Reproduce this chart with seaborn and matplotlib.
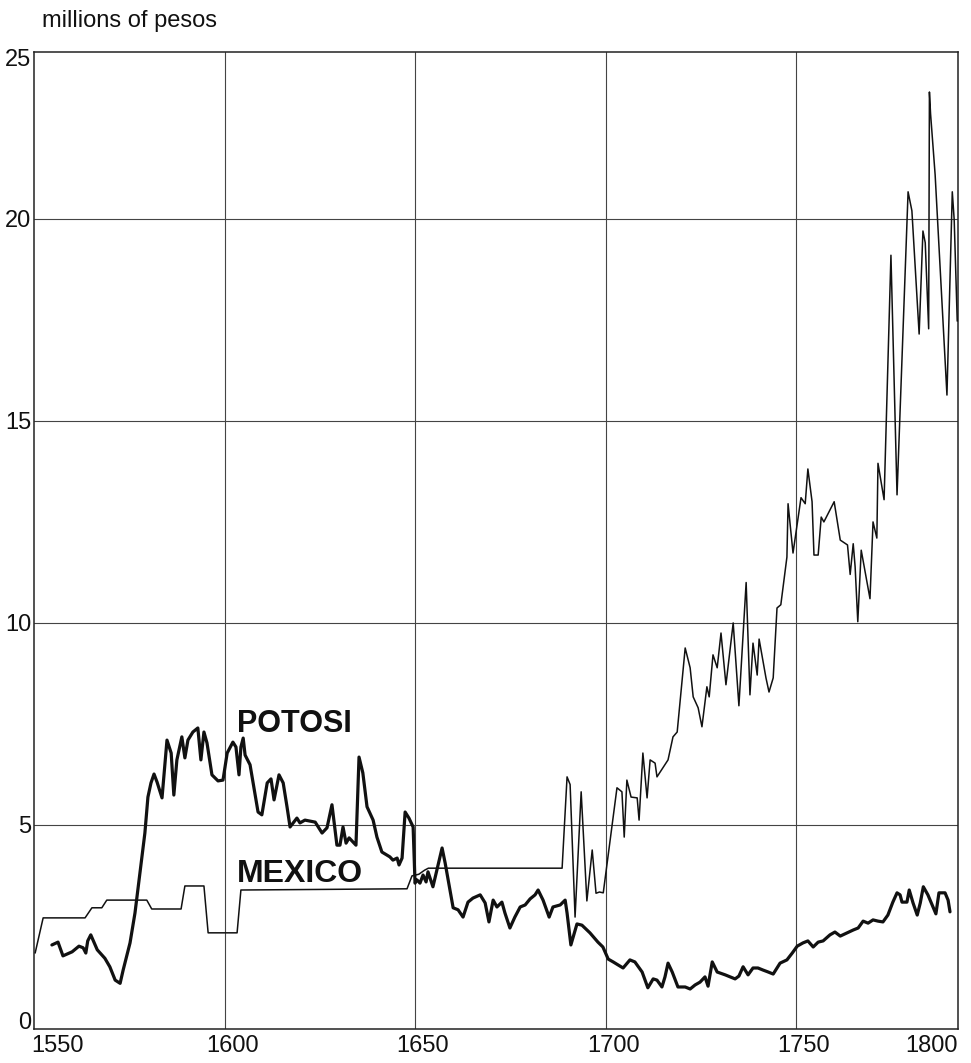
import matplotlib
matplotlib.use('Agg')
import pandas as pd
import seaborn as sns
from matplotlib import pyplot as plt
from matplotlib.transforms import ScaledTranslation

# values (years, millions of pesos)
potosi_year = [
    1554.7, 1556.3, 1557.6, 1560.0, 1561.8, 1562.9, 1563.6, 1564.1, 1564.9, 1566.6,
    1568.6, 1569.9, 1571.3, 1572.6, 1573.4, 1575.2, 1576.5, 1577.8, 1579.1, 1579.9,
    1580.7, 1581.5, 1582.3, 1583.6, 1584.9, 1586.0, 1586.7, 1587.5, 1588.8, 1589.6,
    1590.4, 1591.7, 1593.0, 1593.8, 1594.6, 1595.4, 1596.7, 1598.3, 1599.6, 1600.7,
    1602.2, 1603.0, 1603.8, 1604.3, 1604.9, 1605.4, 1606.7, 1607.5, 1608.8, 1609.8,
    1611.2, 1612.2, 1613.0, 1614.3, 1615.4, 1616.4, 1617.2, 1619.0, 1619.8, 1621.1,
    1623.8, 1625.6, 1626.9, 1628.2, 1629.0, 1629.5, 1630.3, 1631.1, 1631.9, 1632.7,
    1633.7, 1634.5, 1635.3, 1636.3, 1637.4, 1639.0, 1640.0, 1641.3, 1643.4, 1644.2,
    1645.3, 1645.8, 1646.6, 1647.4, 1648.4, 1649.5, 1650.0, 1650.5, 1651.3, 1652.1,
    1652.9, 1653.4, 1654.7, 1657.1, 1657.9, 1658.7, 1660.0, 1661.3, 1662.6, 1663.9,
    1665.2, 1667.1, 1668.4, 1669.4, 1670.5, 1671.5, 1672.8, 1673.6, 1674.9, 1676.2,
    1677.6, 1678.9, 1680.2, 1681.5, 1682.3, 1683.6, 1685.2, 1686.2, 1688.1, 1689.4,
    1689.9, 1690.9, 1692.5, 1693.8, 1695.9, 1698.0, 1699.3, 1700.7, 1702.0, 1704.6,
    1706.4, 1707.7, 1709.6, 1711.1, 1712.5, 1713.5, 1714.8, 1715.6, 1716.4, 1717.5,
    1719.0, 1720.9, 1722.2, 1723.5, 1724.8, 1726.1, 1726.9, 1728.0, 1729.3, 1731.4,
    1734.0, 1735.0, 1736.1, 1737.4, 1738.7, 1740.0, 1741.3, 1742.7, 1744.0, 1745.8,
    1747.6, 1749.0, 1750.3, 1751.8, 1753.1, 1754.5, 1755.8, 1757.1, 1758.9, 1760.2,
    1761.6, 1763.4, 1765.0, 1766.3, 1767.6, 1768.9, 1770.2, 1771.5, 1772.8, 1774.1,
    1775.4, 1776.5, 1777.3, 1777.8, 1779.1, 1779.7, 1780.7, 1781.8, 1782.6, 1783.4,
    1784.6, 1786.7, 1787.5, 1789.1, 1789.9, 1790.4,
]
potosi_value = [
    2.03, 2.10, 1.76, 1.86, 2.00, 1.96, 1.83, 2.13, 2.28, 1.91,
    1.70, 1.49, 1.16, 1.08, 1.41, 2.08, 2.82, 3.81, 4.80, 5.69,
    6.04, 6.26, 6.06, 5.67, 7.10, 6.78, 5.74, 6.61, 7.18, 6.66,
    7.10, 7.30, 7.40, 6.61, 7.30, 7.03, 6.24, 6.09, 6.11, 6.78,
    7.05, 6.93, 6.24, 6.93, 7.15, 6.73, 6.49, 6.04, 5.32, 5.25,
    6.04, 6.14, 5.62, 6.24, 6.04, 5.45, 4.95, 5.17, 5.05, 5.12,
    5.07, 4.80, 4.93, 5.50, 4.88, 4.50, 4.50, 4.95, 4.55, 4.68,
    4.58, 4.50, 6.68, 6.29, 5.45, 5.12, 4.70, 4.33, 4.21, 4.13,
    4.18, 4.01, 4.18, 5.32, 5.17, 4.95, 3.56, 3.64, 3.56, 3.76,
    3.59, 3.84, 3.47, 4.43, 4.06, 3.64, 2.95, 2.90, 2.72, 3.09,
    3.19, 3.27, 3.07, 2.60, 3.14, 2.97, 3.09, 2.82, 2.45, 2.72,
    2.97, 3.02, 3.17, 3.27, 3.39, 3.14, 2.72, 2.97, 3.02, 3.14,
    2.82, 2.03, 2.55, 2.52, 2.33, 2.10, 1.98, 1.68, 1.61, 1.46,
    1.66, 1.61, 1.36, 0.97, 1.19, 1.16, 0.99, 1.24, 1.58, 1.36,
    0.99, 0.99, 0.94, 1.04, 1.11, 1.24, 1.01, 1.61, 1.36, 1.29,
    1.19, 1.26, 1.49, 1.29, 1.46, 1.46, 1.41, 1.36, 1.31, 1.58,
    1.66, 1.83, 2.00, 2.08, 2.13, 1.98, 2.10, 2.13, 2.28, 2.35,
    2.25, 2.33, 2.40, 2.45, 2.62, 2.57, 2.65, 2.62, 2.60, 2.77,
    3.09, 3.32, 3.27, 3.09, 3.09, 3.39, 3.07, 2.77, 3.07, 3.47,
    3.27, 2.80, 3.32, 3.32, 3.14, 2.85,
]

mexico_year = [
    1550.3, 1552.4, 1563.4, 1565.2, 1567.8, 1569.1, 1579.6, 1580.9, 1588.6, 1589.6,
    1594.6, 1595.7, 1603.3, 1604.3, 1647.9, 1649.2, 1651.0, 1652.5, 1653.5, 1688.6,
    1689.9, 1690.7, 1692.0, 1693.6, 1695.1, 1696.5, 1697.5, 1698.4, 1699.4, 1703.0,
    1704.3, 1704.9, 1705.6, 1706.7, 1708.3, 1708.8, 1709.8, 1710.9, 1711.7, 1713.0,
    1713.5, 1716.4, 1717.7, 1718.8, 1720.9, 1722.2, 1723.0, 1724.3, 1725.3, 1726.6,
    1727.2, 1728.2, 1729.3, 1730.3, 1731.6, 1733.5, 1735.0, 1736.9, 1737.9, 1738.7,
    1739.8, 1740.3, 1742.1, 1742.9, 1744.0, 1745.0, 1746.0, 1747.6, 1747.9, 1749.2,
    1751.3, 1752.4, 1753.1, 1754.2, 1754.7, 1755.8, 1756.6, 1757.3, 1760.0, 1761.6,
    1763.5, 1764.2, 1765.0, 1765.5, 1766.2, 1767.1, 1769.4, 1770.2, 1771.2, 1771.5,
    1773.1, 1774.9, 1776.5, 1779.4, 1780.4, 1782.3, 1783.3, 1783.9, 1784.8, 1785.0,
    1785.3, 1786.5, 1789.6, 1791.0, 1791.5, 1792.3,
]
mexico_value = [
    1.83, 2.70, 2.70, 2.95, 2.95, 3.14, 3.14, 2.92, 2.92, 3.49,
    3.49, 2.33, 2.33, 3.39, 3.42, 3.74, 3.78, 3.88, 3.93, 3.93,
    6.19, 6.00, 2.72, 5.82, 3.12, 4.38, 3.31, 3.34, 3.32, 5.92,
    5.82, 4.70, 6.11, 5.69, 5.67, 5.12, 6.78, 5.67, 6.61, 6.53,
    6.19, 6.61, 7.18, 7.30, 9.38, 8.89, 8.17, 7.90, 7.43, 8.42,
    8.17, 9.21, 8.89, 9.75, 8.47, 10.00, 7.95, 11.00, 8.22, 9.50,
    8.71, 9.60, 8.64, 8.29, 8.64, 10.37, 10.45, 11.63, 12.95, 11.73,
    13.10, 12.95, 13.81, 13.00, 11.68, 11.68, 12.62, 12.50, 13.00, 12.05,
    11.93, 11.20, 11.96, 11.39, 10.03, 11.80, 10.60, 12.50, 12.10, 13.95,
    13.05, 19.10, 13.17, 20.67, 20.20, 17.15, 19.70, 19.41, 17.28, 23.14,
    22.60, 21.09, 15.64, 20.67, 19.98, 17.47,
]

x_ticks = [1550, 1600, 1650, 1700, 1750, 1792.5]
x_labels = ['1550', '1600', '1650', '1700', '1750', '1800']
y_ticks = [0.17, 5, 10, 15, 20, 24.0]
y_labels = ['0', '5', '10', '15', '20', '25']
x_grid = [1600, 1650, 1700, 1750]
y_grid = [5, 10, 15, 20]

sns.set_style('white')
plt.rcParams['font.family'] = ['Liberation Sans', 'DejaVu Sans']

potosi = pd.DataFrame({'year': potosi_year, 'value': potosi_value})
mexico = pd.DataFrame({'year': mexico_year, 'value': mexico_value})

fig = plt.figure(figsize=(9.71, 10.63), dpi=100)
ax = fig.add_axes([34 / 971, 1 - 1029 / 1063, 924 / 971, 977 / 1063])

for gx in x_grid:
    ax.axvline(gx, color='#444444', lw=0.8, zorder=1)
for gy in y_grid:
    ax.axhline(gy, color='#444444', lw=0.8, zorder=1)

sns.lineplot(data=mexico, x='year', y='value', ax=ax, color='#111111',
             lw=1.1, sort=False, estimator=None, zorder=3)
sns.lineplot(data=potosi, x='year', y='value', ax=ax, color='#111111',
             lw=2.3, sort=False, estimator=None, zorder=4)

ax.set_xlim(1550, 1792.5)
ax.set_ylim(-0.05, 24.13)
ax.set_xlabel('')
ax.set_ylabel('')
ax.set_xticks(x_ticks)
ax.set_xticklabels(x_labels, fontsize=17)
ax.set_yticks(y_ticks)
ax.set_yticklabels(y_labels, fontsize=17)
ax.tick_params(axis='both', length=0, colors='#111111')
ax.tick_params(axis='x', pad=4)
ax.tick_params(axis='y', pad=2)

# labels in the original sit a little to the right of the grid lines
xl = ax.get_xticklabels()
xl[0].set_ha('left')
xl[-1].set_ha('right')
for lab in xl[1:-1]:
    lab.set_transform(lab.get_transform() + ScaledTranslation(8 / 100, 0, fig.dpi_scale_trans))
xl[0].set_transform(xl[0].get_transform() + ScaledTranslation(-3 / 100, 0, fig.dpi_scale_trans))

for side in ['left', 'right', 'top', 'bottom']:
    ax.spines[side].set_visible(True)
    ax.spines[side].set_color('#222222')
    ax.spines[side].set_linewidth(1.1)

ax.text(1603.3, 7.31, 'POTOSI', fontsize=22, fontweight='bold', color='#111111',
        ha='left', va='baseline', zorder=5)
ax.text(1603.3, 3.60, 'MEXICO', fontsize=23, fontweight='bold', color='#111111',
        ha='left', va='baseline', zorder=5)

fig.text(42 / 971, 1 - 27 / 1063, 'millions of pesos', fontsize=17, color='#111111',
         ha='left', va='baseline')

fig.savefig('out.png', dpi=100)
